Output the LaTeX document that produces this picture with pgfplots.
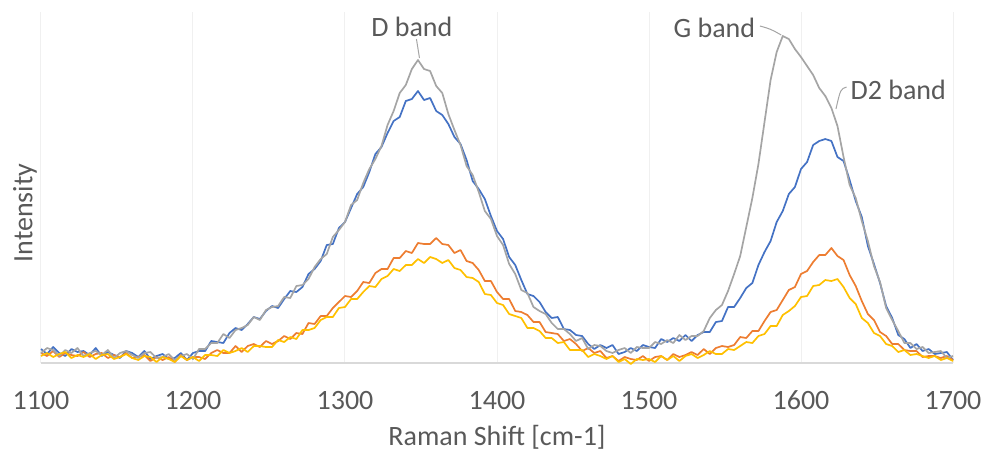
\documentclass[border=0pt]{standalone}
\usepackage{fontspec}
\setmainfont{Carlito}
\usepackage{pgfplots}
\pgfplotsset{compat=1.18}
\usepackage{pgfplotstable}
\definecolor{cblue}{HTML}{4472C4}
\definecolor{corange}{HTML}{ED7D31}
\definecolor{cgray}{HTML}{A5A5A5}
\definecolor{cyellow}{HTML}{FFC000}
\definecolor{ctext}{HTML}{595959}
\definecolor{cgrid}{HTML}{F0F0F0}
\definecolor{caxis}{HTML}{D9D9D9}
\pgfplotstableread{
x g b o yl
1100 10 14 10 7
1104 15 9 7 10
1108 13 16 12 6
1112 7 10 6 9
1116 13 7 10 11
1120 10 14 8 5
1124 15 11 7 8
1128 7 12 11 6
1132 10 8 6 9
1136 12 15 9 4
1140 8 7 10 8
1144 13 11 5 9
1148 5 8 8 4
1152 10 5 6 6
1156 12 12 10 9
1160 8 10 5 5
1164 5 6 6 3
1168 10 12 8 7
1172 11 4 2 6
1176 5 7 6 1
1180 6 9 3 6
1184 9 4 6 4
1188 3 5 1 1
1192 7 10 8 7
1196 9 3 3 3
1200 4 10 6 6
1204 14 12 6 2
1208 14 12 4 8
1212 20 22 10 8
1216 20 21 13 7
1220 29 20 10 13
1224 25 30 10 10
1228 33 35 17 12
1232 35 33 11 15
1236 38 39 17 11
1240 46 46 19 17
1244 43 44 16 17
1248 53 52 22 16
1252 56 57 19 16
1256 57 55 22 23
1260 66 64 27 21
1264 65 72 24 26
1268 77 71 30 24
1272 78 76 29 33
1276 84 89 40 33
1280 96 94 39 35
1284 104 102 47 43
1288 109 118 47 46
1292 126 119 55 46
1296 133 135 61 55
1300 141 141 67 56
1304 158 155 66 64
1308 163 169 72 64
1312 180 176 81 71
1316 194 191 80 77
1320 204 209 90 76
1324 217 216 94 84
1328 238 230 94 87
1332 252 242 105 94
1336 270 246 105 92
1340 278 262 112 98
1344 294 264 110 98
1348 303 272 120 104
1352 294 263 119 100
1356 292 265 119 106
1360 277 252 125 104
1364 270 248 119 100
1368 249 239 118 103
1372 233 226 110 95
1376 218 219 113 93
1380 197 203 102 86
1384 188 182 100 85
1388 171 174 93 81
1392 152 164 82 69
1396 144 147 82 68
1400 127 132 71 60
1404 118 124 64 58
1408 99 106 64 49
1412 89 98 52 47
1416 73 83 51 45
1420 70 69 48 35
1424 56 67 41 35
1428 52 61 41 32
1432 49 51 31 25
1436 40 45 30 25
1440 34 46 29 20
1444 34 34 22 21
1448 29 33 24 13
1452 22 28 19 13
1456 25 27 12 13
1460 14 19 15 6
1464 18 14 10 9
1468 17 18 12 7
1472 12 15 5 4
1476 10 18 7 7
1480 13 9 2 1
1484 15 11 6 4
1488 10 15 4 -1
1492 16 12 3 4
1496 15 18 7 3
1500 15 16 2 4
1504 21 15 6 1
1508 19 24 7 7
1512 23 21 3 3
1516 20 25 9 7
1520 28 22 6 2
1524 23 28 8 7
1528 27 22 11 9
1532 27 28 8 5
1536 32 31 14 8
1540 45 31 9 12
1544 53 41 15 9
1548 58 42 17 9
1552 72 56 16 14
1556 89 56 18 13
1560 107 65 26 17
1564 136 75 25 21
1568 165 80 32 20
1572 199 98 32 27
1576 241 111 42 29
1580 283 122 51 37
1584 311 141 53 37
1588 327 152 63 48
1592 324 169 73 52
1596 314 176 76 57
1600 306 194 89 66
1604 297 201 92 67
1608 288 218 101 77
1612 275 222 108 78
1616 267 224 108 83
1620 255 222 115 82
1624 237 206 107 84
1628 206 202 103 76
1632 178 183 88 65
1636 165 162 77 59
1640 142 146 62 45
1644 122 117 49 40
1648 97 99 43 30
1652 81 80 31 27
1656 55 57 27 19
1660 43 45 19 17
1664 32 28 19 11
1668 20 24 13 13
1672 20 15 12 8
1676 14 19 12 9
1680 16 12 6 7
1684 10 14 7 5
1688 11 9 7 7
1692 12 10 5 3
1696 5 11 7 5
1700 7 3 3 2
}\spectra
\begin{document}
\begin{tikzpicture}
\begin{axis}[
  scale only axis, width=456pt, height=175.5pt,
  xmin=1100, xmax=1700, ymin=0, ymax=351,
  clip=false,
  axis line style={draw=none},
  xtick={1100,1200,1300,1400,1500,1600,1700},
  xticklabels={1100,1200,1300,1400,1500,1600,1700},
  ytick=\empty,
  major tick length=0pt,
  xmajorgrids, grid style={cgrid, line width=0.5pt},
  xticklabel style={font=\fontsize{14}{16}\selectfont, text=ctext, anchor=center, yshift=-18.5pt},
  xlabel={Raman Shift [cm-1]}, ylabel={Intensity},
  every axis x label/.style={at={(rel axis cs:0.5,-0.211)}, anchor=center, font=\fontsize{14}{16}\selectfont, text=ctext},
  every axis y label/.style={at={(rel axis cs:-0.0175,0.427)}, anchor=center, rotate=90, font=\fontsize{14}{16}\selectfont, text=ctext},
  every axis plot/.append style={line width=0.85pt, line join=round},
]
\path (rel axis cs:-0.04496,-0.25356) rectangle (rel axis cs:1.03947,1.03419);
\draw[caxis, line width=0.6pt] (rel axis cs:0,0) -- (rel axis cs:1,0);
\addplot[cblue] table[x=x, y=b] {\spectra};
\addplot[corange] table[x=x, y=o] {\spectra};
\addplot[cgray] table[x=x, y=g] {\spectra};
\addplot[cyellow] table[x=x, y=yl] {\spectra};
\node[font=\fontsize{14}{16}\selectfont, text=ctext] at (axis cs:1344,336) {D band};
\draw[cgray, line width=0.5pt] (axis cs:1347,324) -- (axis cs:1349,305);
\node[font=\fontsize{14}{16}\selectfont, text=ctext] at (axis cs:1543,335) {G band};
\draw[cgray, line width=0.5pt] (axis cs:1573,337) .. controls (axis cs:1580,334) .. (axis cs:1587,328);
\node[font=\fontsize{14}{16}\selectfont, text=ctext] at (axis cs:1664,273) {D2 band};
\draw[cgray, line width=0.5pt] (axis cs:1630,276) .. controls (axis cs:1626,274) .. (axis cs:1623,254);
\end{axis}
\end{tikzpicture}
\end{document}
